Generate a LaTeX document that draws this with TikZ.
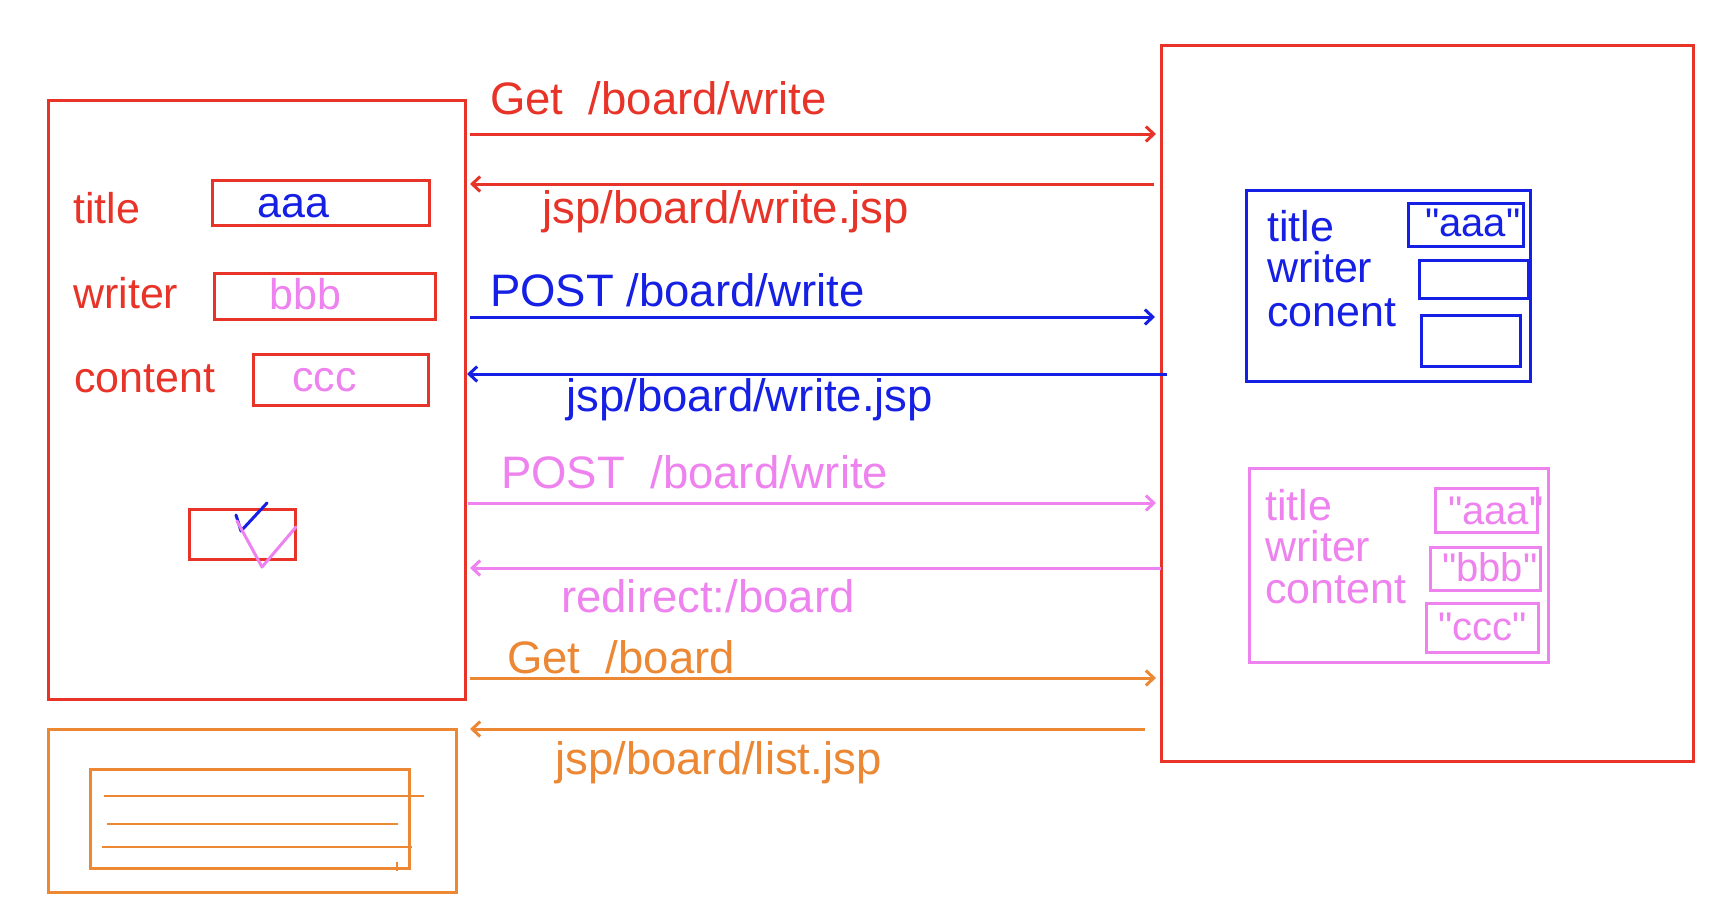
\documentclass[tikz,border=0pt]{standalone}
\usepackage{fontspec}
\setmainfont{Liberation Sans}
\newfontfamily\plainf{Liberation Sans}
\usetikzlibrary{arrows.meta}
\definecolor{cred}{RGB}{232,52,40}
\definecolor{cblue}{RGB}{22,32,228}
\definecolor{cviolet}{RGB}{238,130,238}
\definecolor{corange}{RGB}{236,136,52}
\begin{document}
\begin{tikzpicture}[x=1pt,y=-1pt,
  box/.style={draw, line width=3pt, anchor=north west, inner sep=0pt, outer sep=0pt},
  lbl/.style={anchor=base west, inner sep=0pt, font=\plainf\fontsize{43}{50}\selectfont},
  val/.style={anchor=base west, inner sep=0pt, font=\plainf\fontsize{40}{48}\selectfont},
  albl/.style={anchor=base west, inner sep=0pt, font=\plainf\fontsize{45.5}{52}\selectfont},
  arr/.style={line width=3pt, -{Straight Barb[length=8pt,width=15pt,line width=3pt]}},
  thin/.style={line width=2.8pt}]
\useasboundingbox (0,0) rectangle (1726,908);
\fill[white] (0,0) rectangle (1726,908);

% client page
\node[box, cred, minimum width=417pt, minimum height=599pt] (client) at (48,100) {};
\node[lbl, cred] (ltitle) at (73,223) {title};
\node[lbl, cred] (lwriter) at (73,308) {writer};
\node[lbl, cred] (lcontent) at (74,392) {content};
\node[box, cred, minimum width=217pt, minimum height=45pt] (ftitle) at (212,180) {};
\node[box, cred, minimum width=221pt, minimum height=46pt] (fwriter) at (214,273) {};
\node[box, cred, minimum width=175pt, minimum height=51pt] (fcontent) at (253,354) {};
\node[lbl, cblue] (vaaa) at (257,217) {aaa};
\node[lbl, cviolet] (vbbb) at (269,309) {bbb};
\node[lbl, cviolet] (vccc) at (292,391) {ccc};
\node[box, cred, minimum width=106pt, minimum height=50pt] (submit) at (189,509) {};
\draw[cblue, line width=3pt, line cap=round, line join=round] (236,515) -- (241,531) -- (267,503);
\draw[cviolet, line width=3pt, line cap=round, line join=round] (237,521) -- (262,567) -- (296,527);

% list page
\node[box, corange, minimum width=408pt, minimum height=163pt] (listpage) at (48,729) {};
\node[box, corange, minimum width=319pt, minimum height=99pt] (listtable) at (90,769) {};
\draw[corange, thin] (104,796) -- (424,796);
\draw[corange, thin] (107,824) -- (398,824);
\draw[corange, thin] (102,847) -- (412,847);
\draw[corange, line width=2pt] (397,862) -- (397,871);

% server
\node[box, cred, minimum width=532pt, minimum height=716pt] (server) at (1161,45) {};

% blue data object
\node[box, cblue, minimum width=284pt, minimum height=191pt] (dto1) at (1246,190) {};
\node[lbl, cblue] (b1) at (1267,241) {title};
\node[lbl, cblue] (b2) at (1267,282) {writer};
\node[lbl, cblue] (b3) at (1267,326) {conent};
\node[box, cblue, minimum width=115pt, minimum height=43pt] (bf1) at (1408,203) {};
\node[box, cblue, minimum width=109pt, minimum height=38pt] (bf2) at (1419,260) {};
\node[box, cblue, minimum width=99pt, minimum height=51pt] (bf3) at (1421,315) {};
\node[val, cblue] (bv1) at (1425,236) {"aaa"};

% violet data object
\node[box, cviolet, minimum width=299pt, minimum height=194pt] (dto2) at (1249,468) {};
\node[lbl, cviolet] (p1) at (1265,520) {title};
\node[lbl, cviolet] (p2) at (1265,561) {writer};
\node[lbl, cviolet] (p3) at (1265,603) {content};
\node[box, cviolet, minimum width=102pt, minimum height=44pt] (pf1) at (1435,488) {};
\node[box, cviolet, minimum width=110pt, minimum height=43pt] (pf2) at (1430,547) {};
\node[box, cviolet, minimum width=112pt, minimum height=49pt] (pf3) at (1426,603) {};
\node[val, cviolet] (pv1) at (1448,524) {"aaa"};
\node[val, cviolet] (pv2) at (1442,581) {"bbb"};
\node[val, cviolet] (pv3) at (1438,640) {"ccc"};

% arrow end points
\coordinate (a1s) at (470,134);  \coordinate (a1e) at (1156,134);
\coordinate (a2s) at (1154,184); \coordinate (a2e) at (470,184);
\coordinate (a3s) at (470,317);  \coordinate (a3e) at (1155,317);
\coordinate (a4s) at (1167,374); \coordinate (a4e) at (467,374);
\coordinate (a5s) at (468,503);  \coordinate (a5e) at (1156,503);
\coordinate (a6s) at (1161,568); \coordinate (a6e) at (470,568);
\coordinate (a7s) at (470,678);  \coordinate (a7e) at (1156,678);
\coordinate (a8s) at (1145,729); \coordinate (a8e) at (470,729);

\draw[arr, cred] (a1s) -- (a1e);
\draw[arr, cred] (a2s) -- (a2e);
\draw[arr, cblue] (a3s) -- (a3e);
\draw[arr, cblue] (a4s) -- (a4e);
\draw[arr, cviolet] (a5s) -- (a5e);
\draw[arr, cviolet] (a6s) -- (a6e);
\draw[arr, corange] (a7s) -- (a7e);
\draw[arr, corange] (a8s) -- (a8e);

\node[albl, cred] (t1) at (490,114) {Get\ \ /board/write};
\node[albl, cred] (t2) at (542,223) {jsp/board/write.jsp};
\node[albl, cblue] (t3) at (490,306) {POST /board/write};
\node[albl, cblue] (t4) at (566,411) {jsp/board/write.jsp};
\node[albl, cviolet] (t5) at (501,488) {POST\ \ /board/write};
\node[albl, cviolet] (t6) at (561,612) {redirect:/board};
\node[albl, corange] (t7) at (507,673) {Get\ \ /board};
\node[albl, corange] (t8) at (555,774) {jsp/board/list.jsp};
\end{tikzpicture}
\end{document}
